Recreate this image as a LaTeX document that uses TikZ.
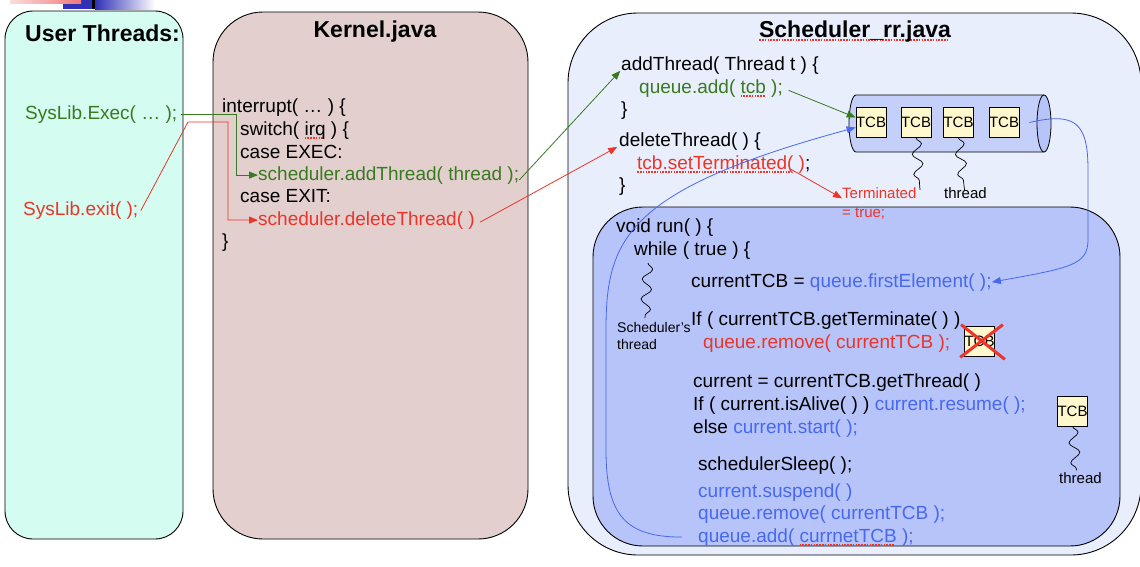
\documentclass[tikz,border=0pt]{standalone}
\usepackage{fontspec}
\setmainfont{Liberation Sans}
\usepackage{tikz}
\usetikzlibrary{arrows.meta,calc,decorations.pathmorphing}
\definecolor{userfill}{RGB}{212,252,240}
\definecolor{kernelfill}{RGB}{226,207,206}
\definecolor{schedfill}{RGB}{233,238,252}
\definecolor{runfill}{RGB}{182,196,249}
\definecolor{queuefill}{RGB}{197,208,250}
\definecolor{tcbfill}{RGB}{255,248,204}
\definecolor{codegreen}{RGB}{56,122,32}
\definecolor{codered}{RGB}{236,52,40}
\definecolor{codeblue}{RGB}{72,104,240}
\definecolor{headerblue}{RGB}{48,48,184}
\definecolor{headerpink}{RGB}{240,120,120}
\newsavebox\spellbox
\newcommand\spellmark[1]{\sbox\spellbox{#1}%
  \rlap{\textcolor{codered}{\raisebox{-3.5pt}{\hbox to \wd\spellbox{%
    \leaders\hbox{\rule{1.6pt}{1.2pt}\kern1.2pt}\hfil}}}}#1}
\tikzset{
  panel/.style={draw=black,line width=0.9pt},
  code/.style={anchor=base west,inner sep=0pt,font=\fontsize{19}{22}\selectfont},
  title/.style={anchor=base,inner sep=0pt,font=\fontsize{23}{26}\selectfont\bfseries},
  small/.style={anchor=base west,inner sep=0pt,font=\fontsize{15}{17}\selectfont},
  tcb/.style={draw=black,line width=0.7pt,fill=tcbfill,minimum width=29pt,
    minimum height=30pt,inner sep=0pt,font=\fontsize{15}{15}\selectfont},
  garrow/.style={-{Triangle[length=9pt,width=7pt]},draw=codegreen,line width=0.8pt},
  rarrow/.style={-{Triangle[length=9pt,width=7pt]},draw=codered,line width=0.8pt},
  barrow/.style={-{Triangle[length=9pt,width=7pt]},draw=codeblue,line width=0.8pt},
  threadline/.style={decorate,decoration={snake,amplitude=5pt,segment length=20pt},
    line width=0.7pt},
  cross/.style={draw=codered,line width=3pt}
}

\begin{document}
\begin{tikzpicture}[x=1pt,y=-1pt]
  \useasboundingbox (0,0) rectangle (1140,566);
  % slide header
  \fill[headerblue] (63,0) rectangle (92,9);
  \fill[black] (92,0) rectangle (95,9);
  \shade[left color=headerblue,right color=white] (95,0) rectangle (155,9);
  \shade[left color=headerpink!25,right color=headerpink] (10,0) rectangle (81,3);

  % panels
  \draw[panel,fill=userfill,rounded corners=28pt] (5,11) rectangle (183,539);
  \draw[panel,fill=kernelfill,rounded corners=50pt] (213,12) rectangle (528,539);
  \draw[panel,fill=schedfill,rounded corners=70pt] (568,13) rectangle (1141,555);
  \draw[panel,fill=runfill,rounded corners=50pt] (593,207) rectangle (1120,546);

  \node[title,anchor=base west] (usertitle) at (25,41) {User Threads:};
  \node[title] (kerneltitle) at (375,37) {Kernel.java};
  \node[title] (schedtitle) at (855,37) {\spellmark{Scheduler\_rr.java}};

  % user threads
  \node[code,text=codegreen] (exec) at (25,119) {SysLib.Exec( … );};
  \node[code,text=codered] (exit) at (23,215) {SysLib.exit( );};

  % kernel
  \node[code] (kint) at (222,112) {interrupt( … ) \{};
  \node[code] (kswitch) at (240,135) {switch( \spellmark{irq} ) \{};
  \node[code] (kexec) at (240,158) {case EXEC:};
  \node[code,text=codegreen] (addthr) at (258,180) {scheduler.addThread( thread );};
  \node[code] (kexit) at (240,202) {case EXIT:};
  \node[code,text=codered] (delthr) at (258,225) {scheduler.deleteThread( )};
  \node[code] (kend) at (222,247) {\}};

  % scheduler methods
  \node[code] (sadd) at (621,70) {addThread( Thread t ) \{};
  \node[code,text=codegreen] (qadd) at (639,93) {queue.add( \spellmark{tcb} );};
  \node[code] (saddend) at (621,115) {\}};
  \node[code] (sdel) at (619,146) {deleteThread( ) \{};
  \node[code] (setterm) at (637,169) {\textcolor{codered}{\spellmark{tcb.setTerminated(} )};};
  \node[code] (sdelend) at (619,191) {\}};

  % queue
  \draw[line width=0.8pt,fill=queuefill] (1044,95) -- (856,95)
    arc[start angle=270,end angle=90,x radius=7,y radius=28.5] -- (1044,152);
  \draw[line width=0.8pt,fill=runfill] (1044,123.5) ellipse[x radius=7,y radius=28.5];
  \node[tcb] (tcbA) at (871,122.5) {TCB};
  \node[tcb] (tcbB) at (916,122.5) {TCB};
  \node[tcb] (tcbC) at (958.5,122.5) {TCB};
  \node[tcb] (tcbD) at (1004,122.5) {TCB};
  \draw[threadline] (tcbB.south) -- ++(4,52);
  \draw[threadline] (tcbC.south) -- ++(6,52);
  \node[small,text=codered] (term1) at (842,198) {Terminated};
  \node[small,text=codered] (term2) at (842,217) {= true;};
  \node[small] (qthread) at (944,198) {thread};

  % run loop
  \node[code] (run) at (616,232) {void run( ) \{};
  \node[code] (while) at (634,255) {while ( true ) \{};
  \draw[threadline] (648,263) -- (645,318);
  \node[small,font=\fontsize{14}{16}\selectfont] (sthr1) at (617,332) {Scheduler’s};
  \node[small,font=\fontsize{14}{16}\selectfont] (sthr2) at (617,349) {thread};
  \node[code] (ffirst) at (691,287) {currentTCB = \textcolor{codeblue}{queue.firstElement( );}};
  \node[code] (ifterm) at (691,325) {If ( currentTCB.getTerminate( ) )};
  \node[code,text=codered] (qrem) at (703,348) {queue.remove( currentTCB );};
  \node[tcb] (tcbX) at (979.5,341) {TCB};
  \draw[cross] ([shift={(-3,-1)}]tcbX.north west) -- ([shift={(10,3)}]tcbX.south east);
  \draw[cross] ([shift={(-4,1)}]tcbX.south west) -- ([shift={(8,-1)}]tcbX.north east);
  \node[code] (getthr) at (693,387) {current = currentTCB.getThread( )};
  \node[code] (alive) at (693,410) {If ( current.isAlive( ) ) \textcolor{codeblue}{current.resume( );}};
  \node[code] (start) at (693,433) {else \textcolor{codeblue}{current.start( );}};
  \node[code] (sleep) at (698,470) {schedulerSleep( );};
  \node[code,text=codeblue] (susp) at (698,497) {current.suspend( )};
  \node[code,text=codeblue] (qremc) at (698,519) {queue.remove( currentTCB );};
  \node[code,text=codeblue] (qaddc) at (698,542) {queue.add( \spellmark{currnetTCB} );};
  \node[tcb] (tcbY) at (1072.5,411) {TCB};
  \draw[threadline] (tcbY.south) -- ++(4,44);
  \node[small] (ythread) at (1059,483) {thread};

  % connectors
  \coordinate (rbend) at (188,122);
  \draw[garrow,shorten <=4pt] (exec.east) -| ([xshift=-22pt]addthr.west) -- (addthr.west);
  \draw[rarrow,shorten <=5pt] (exit.base east) -- (rbend) -| ([xshift=-30pt]delthr.west) -- (delthr.west);
  \draw[garrow,shorten >=1pt] (addthr.base east) -- (sadd.base west);
  \draw[rarrow,shorten <=6pt,shorten >=2pt] (delthr.base east) -- (sdel.base west);
  \draw[garrow,shorten <=6pt] (qadd.east) -- ([yshift=5pt]tcbA.west);
  \draw[rarrow] ([xshift=-20pt]setterm.base east) -- (term1.south west);
  \draw[barrow] ([xshift=-16pt]qaddc.west) .. controls (625,537) and (606,515) .. (606,450)
    -- (606,330) .. controls (606,240) and (625,190) .. ([yshift=-5pt]tcbA.west);
  \draw[barrow] ([xshift=10pt]tcbD.east) .. controls (1075,112) and (1088,122) .. (1088,170)
    -- (1088,240) .. controls (1088,265) and (1070,268) .. (ffirst.east);
\end{tikzpicture}
\end{document}
